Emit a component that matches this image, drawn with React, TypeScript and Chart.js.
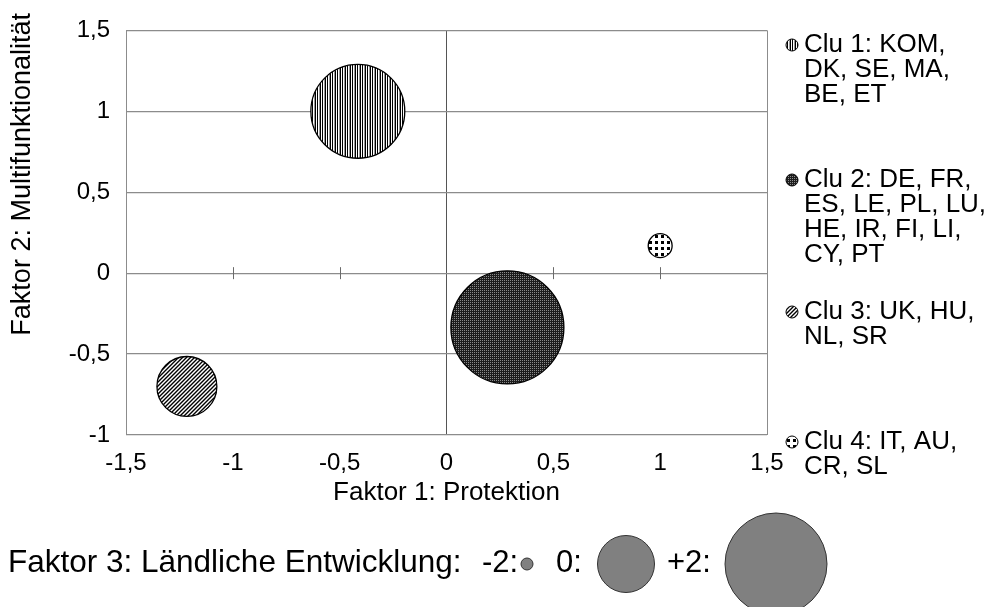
import React, { useEffect, useRef } from 'react';
import { Chart, registerables } from 'chart.js';

Chart.register(...registerables);

// ---------- data ----------
const clusterNames = ['Clu 1', 'Clu 2', 'Clu 3', 'Clu 4'];
const legendLines = [
  ['Clu 1: KOM,', 'DK, SE, MA,', 'BE, ET'],
  ['Clu 2: DE, FR,', 'ES, LE, PL, LU,', 'HE, IR, FI, LI,', 'CY, PT'],
  ['Clu 3: UK, HU,', 'NL, SR'],
  ['Clu 4: IT, AU,', 'CR, SL'],
];
const faktor1 = [-0.415, 0.285, -1.215, 1.0];
const faktor2 = [1.0, -0.335, -0.7, 0.17];
const faktor3 = [1.64, 2.49, 0.13, -1.47];
const patternKinds = ['vertical', 'dense', 'diagonal', 'dots'];
const xTickLabels = ['-1,5', '-1', '-0,5', '0', '0,5', '1', '1,5'];
const yTickLabels = ['-1', '-0,5', '0', '0,5', '1', '1,5'];
const crossTickValues = [-1, -0.5, 0.5, 1];
const sizeLegendValues = [-2, 0, 2];
const sizeLegendLabels = ['-2:', '0:', '+2:'];
const xTitle = 'Faktor 1: Protektion';
const yTitle = 'Faktor 2: Multifunktionalität';
const sizeTitle = 'Faktor 3: Ländliche Entwicklung:';

const FONT = "'Liberation Sans', Arial, sans-serif";

// bubble radius (px) from Faktor 3
const radiusOf = (f: number) => 28.5 + 11.25 * f;

function makePattern(kind: string): CanvasPattern | string {
  const c = document.createElement('canvas');
  const g = c.getContext('2d');
  if (!g) return '#888';
  if (kind === 'vertical') {
    c.width = 5; c.height = 5;
    g.fillStyle = '#fff'; g.fillRect(0, 0, 5, 5);
    g.fillStyle = '#000'; g.fillRect(0, 0, 1, 5); g.fillRect(2, 0, 1, 5);
    g.fillStyle = '#999'; g.fillRect(4, 0, 1, 5);
  } else if (kind === 'dense') {
    c.width = 2; c.height = 2;
    g.fillStyle = '#1c1c1c'; g.fillRect(0, 0, 2, 2);
    g.fillStyle = '#8a8a8a'; g.fillRect(0, 0, 1, 1);
  } else if (kind === 'diagonal') {
    c.width = 4; c.height = 4;
    g.fillStyle = '#fff'; g.fillRect(0, 0, 4, 4);
    g.strokeStyle = '#000'; g.lineWidth = 1.4;
    g.beginPath();
    g.moveTo(-1, 5); g.lineTo(5, -1);
    g.moveTo(-1, 1); g.lineTo(1, -1);
    g.moveTo(3, 5); g.lineTo(5, 3);
    g.stroke();
  } else {
    c.width = 6; c.height = 6;
    g.fillStyle = '#fff'; g.fillRect(0, 0, 6, 6);
    g.fillStyle = '#000'; g.fillRect(1, 1, 3, 3);
  }
  const p = g.createPattern(c, 'repeat');
  return p || '#888';
}

export default function App() {
  const ref = useRef<HTMLCanvasElement | null>(null);

  useEffect(() => {
    const canvas = ref.current;
    if (!canvas) return;
    const patterns = patternKinds.map(makePattern);

    const overlay = {
      id: 'overlay',
      beforeDatasetsDraw(chart: any) {
        const { ctx, scales } = chart;
        const y0 = scales.y.getPixelForValue(0);
        ctx.save();
        ctx.strokeStyle = '#6a6a6a';
        ctx.lineWidth = 1;
        crossTickValues.forEach((v) => {
          const px = Math.round(scales.x.getPixelForValue(v)) + 0.5;
          ctx.beginPath();
          ctx.moveTo(px, y0 - 6);
          ctx.lineTo(px, y0 + 6);
          ctx.stroke();
        });
        ctx.restore();
      },
      afterDraw(chart: any) {
        const { ctx } = chart;
        ctx.save();
        // y axis title (rotated)
        ctx.save();
        ctx.translate(23, 13);
        ctx.rotate(-Math.PI / 2);
        ctx.font = `27px ${FONT}`;
        ctx.fillStyle = '#000';
        ctx.textAlign = 'right';
        ctx.textBaseline = 'middle';
        ctx.fillText(yTitle, 0, 0);
        ctx.restore();

        // right legend
        const groupTops = [45, 180, 312, 442];
        ctx.font = `26px ${FONT}`;
        ctx.textBaseline = 'middle';
        ctx.textAlign = 'left';
        legendLines.forEach((lines, i) => {
          const top = groupTops[i];
          ctx.beginPath();
          ctx.arc(792, top, 6, 0, Math.PI * 2);
          ctx.fillStyle = patterns[i];
          ctx.fill();
          ctx.strokeStyle = '#000';
          ctx.lineWidth = 1;
          ctx.stroke();
          ctx.fillStyle = '#000';
          lines.forEach((ln, j) => ctx.fillText(ln, 804, top + j * 25));
        });
        // bottom size legend
        const cy = 563;
        ctx.font = `31.5px ${FONT}`;
        ctx.fillStyle = '#000';
        ctx.textAlign = 'left';
        ctx.fillText(sizeTitle, 8, cy);
        const centers = [527, 626, 776];
        const labelLeft = [482, 556, 667];
        ctx.font = `31px ${FONT}`;
        sizeLegendValues.forEach((v, i) => {
          ctx.fillStyle = '#000';
          ctx.textAlign = 'left';
          ctx.fillText(sizeLegendLabels[i], labelLeft[i], cy);
          ctx.beginPath();
          ctx.arc(centers[i], cy + 1, radiusOf(v), 0, Math.PI * 2);
          ctx.fillStyle = '#808080';
          ctx.fill();
          ctx.strokeStyle = '#333';
          ctx.lineWidth = 1;
          ctx.stroke();
        });
        ctx.restore();
      },
    };

    const gridX = (c: any) => {
      const v = c.tick ? c.tick.value : NaN;
      if (Math.abs(v) < 1e-9) return '#555';
      if (Math.abs(Math.abs(v) - 1.5) < 1e-9) return '#8c8c8c';
      return 'rgba(0,0,0,0)';
    };

    const chart = new Chart(canvas, {
      type: 'bubble',
      data: {
        datasets: clusterNames.map((name, i) => ({
          label: name,
          data: [{ x: faktor1[i], y: faktor2[i], r: radiusOf(faktor3[i]) }],
          backgroundColor: patterns[i] as any,
          borderColor: '#000',
          borderWidth: 1.3,
        })),
      },
      options: {
        responsive: false,
        animation: false,
        events: [],
        layout: { autoPadding: false, padding: { left: 0, top: 19, right: 991 - 767, bottom: 90 } },
        plugins: {
          legend: { display: false },
          tooltip: { enabled: false },
        },
        scales: {
          x: {
            type: 'linear',
            min: -1.5,
            max: 1.5,
            afterFit: (s: any) => { s.height = 607 - 90 - 435; },
            ticks: {
              stepSize: 0.5,
              autoSkip: false,
              maxRotation: 0,
              padding: 14,
              color: '#000',
              font: { family: FONT, size: 24 },
              callback: (_v: any, i: number) => xTickLabels[i],
            },
            grid: { color: gridX, drawTicks: false, lineWidth: 1 },
            border: { display: false },
            title: {
              display: true,
              text: xTitle,
              color: '#000',
              font: { family: FONT, size: 26 },
              padding: { top: 0, bottom: 9 },
            },
          },
          y: {
            type: 'linear',
            min: -1,
            max: 1.5,
            afterFit: (s: any) => { s.width = 126; },
            ticks: {
              stepSize: 0.5,
              autoSkip: false,
              padding: 16,
              color: '#000',
              font: { family: FONT, size: 24 },
              callback: (_v: any, i: number) => yTickLabels[i],
            },
            grid: { color: '#8c8c8c', drawTicks: false, lineWidth: 1.2 },
            border: { display: false },
          },
        },
      },
      plugins: [overlay],
    } as any);

    return () => chart.destroy();
  }, []);

  return (
    <div style={{ position: 'fixed', left: 0, top: 0, width: 991, height: 607, background: '#fff' }}>
      <canvas ref={ref} width={991} height={607} style={{ display: 'block' }} />
    </div>
  );
}
